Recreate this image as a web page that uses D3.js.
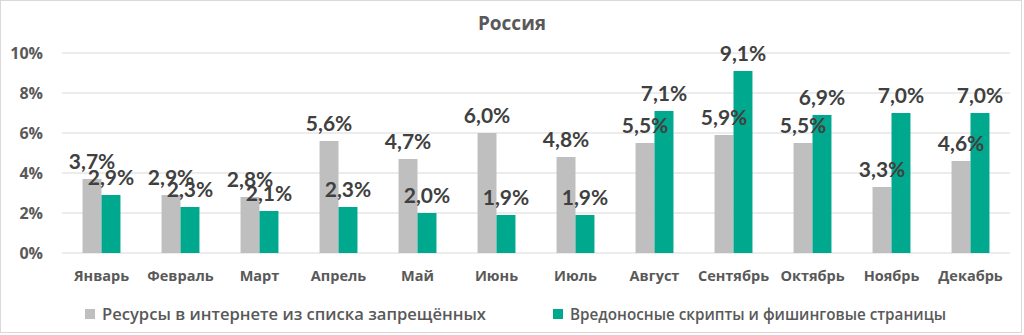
<!DOCTYPE html>
<html><head><meta charset="utf-8">
<script src="https://cdn.jsdelivr.net/npm/d3@7"></script>
<style>body{margin:0;background:#fff}svg{display:block;font-family:"Open Sans",sans-serif}</style>
</head><body>
<svg id="c" width="1024" height="335"></svg>
<script>
const title = "Россия";
const months = ["Январь","Февраль","Март","Апрель","Май","Июнь","Июль","Август","Сентябрь","Октябрь","Ноябрь","Декабрь"];
const seriesNames = ["Ресурсы в интернете из списка запрещённых","Вредоносные скрипты и фишинговые страницы"];
const blocked = [3.7,2.9,2.8,5.6,4.7,6.0,4.8,5.5,5.9,5.5,3.3,4.6];
const malicious = [2.9,2.3,2.1,2.3,2.0,1.9,1.9,7.1,9.1,6.9,7.0,7.0];
const yTicks = [0,2,4,6,8,10];
const colors = ["#bfbfbf","#00a88e"];

const svg = d3.select("#c");
svg.append("rect").attr("x",0.5).attr("y",0.5).attr("width",1021).attr("height",332)
  .attr("fill","#fff").attr("stroke","#d9d9d9");

const x0 = d3.scaleBand().domain(months).range([62,1010]).paddingInner(0.52).paddingOuter(0.26);
const x1 = d3.scaleBand().domain([0,1]).range([0,x0.bandwidth()]);
const y = d3.scaleLinear().domain([0,10]).range([253,53]);

svg.append("g").selectAll("line").data(yTicks).join("line")
  .attr("x1",62).attr("x2",1010).attr("y1",d=>y(d)).attr("y2",d=>y(d))
  .attr("stroke","#d9d9d9").attr("stroke-width",1);

const yAxis = d3.axisLeft(y).tickValues(yTicks).tickFormat(d=>d+"%").tickSize(0).tickPadding(0);
const ya = svg.append("g").attr("transform","translate(43,0)").call(yAxis);
ya.select(".domain").remove();
ya.selectAll("text").attr("font-family","Open Sans").attr("font-weight","bold").attr("font-size",16).attr("fill","#595959").attr("dy","0.35em");

const xAxis = d3.axisBottom(x0).tickSize(0).tickPadding(0);
const xa = svg.append("g").attr("transform","translate(0,281)").call(xAxis);
xa.select(".domain").remove();
xa.selectAll("text").attr("font-family","Open Sans").attr("font-weight","bold").attr("font-size",14.5).attr("fill","#595959").attr("dy",0);

const data = months.map((m,i)=>({m, vals:[blocked[i],malicious[i]]}));
const groups = svg.append("g").selectAll("g").data(data).join("g")
  .attr("transform",d=>`translate(${x0(d.m)},0)`);
groups.selectAll("rect").data(d=>d.vals.map((v,k)=>({v,k}))).join("rect")
  .attr("x",d=>x1(d.k)).attr("width",x1.bandwidth())
  .attr("y",d=>y(d.v)).attr("height",d=>y(0)-y(d.v))
  .attr("fill",d=>colors[d.k]);
groups.selectAll("text").data(d=>d.vals.map((v,k)=>({v,k}))).join("text")
  .attr("x",d=>x1(d.k)+x1.bandwidth()/2).attr("y",d=>y(d.v)-10)
  .attr("text-anchor","middle").attr("font-family","Lato").attr("font-weight","bold")
  .attr("font-size",21).attr("fill","#404040")
  .text(d=>d.v.toFixed(1).replace(".",",")+"%");

svg.append("text").attr("x",512).attr("y",30).attr("text-anchor","middle")
  .attr("font-family","Open Sans").attr("font-weight","bold").attr("font-size",19).attr("fill","#595959").text(title);

const legX = [85,553];
const legW = [384,376];
const leg = svg.append("g").selectAll("g").data(seriesNames).join("g")
  .attr("transform",(d,i)=>`translate(${legX[i]},0)`);
leg.append("rect").attr("x",0).attr("y",309).attr("width",10).attr("height",10).attr("fill",(d,i)=>colors[i]);
leg.append("text").attr("x",17).attr("y",320).attr("font-family","Open Sans").attr("font-weight",600).attr("font-size",16).attr("fill","#595959")
  .attr("textLength",(d,i)=>legW[i]).attr("lengthAdjust","spacingAndGlyphs").text(d=>d);
</script>
</body></html>
